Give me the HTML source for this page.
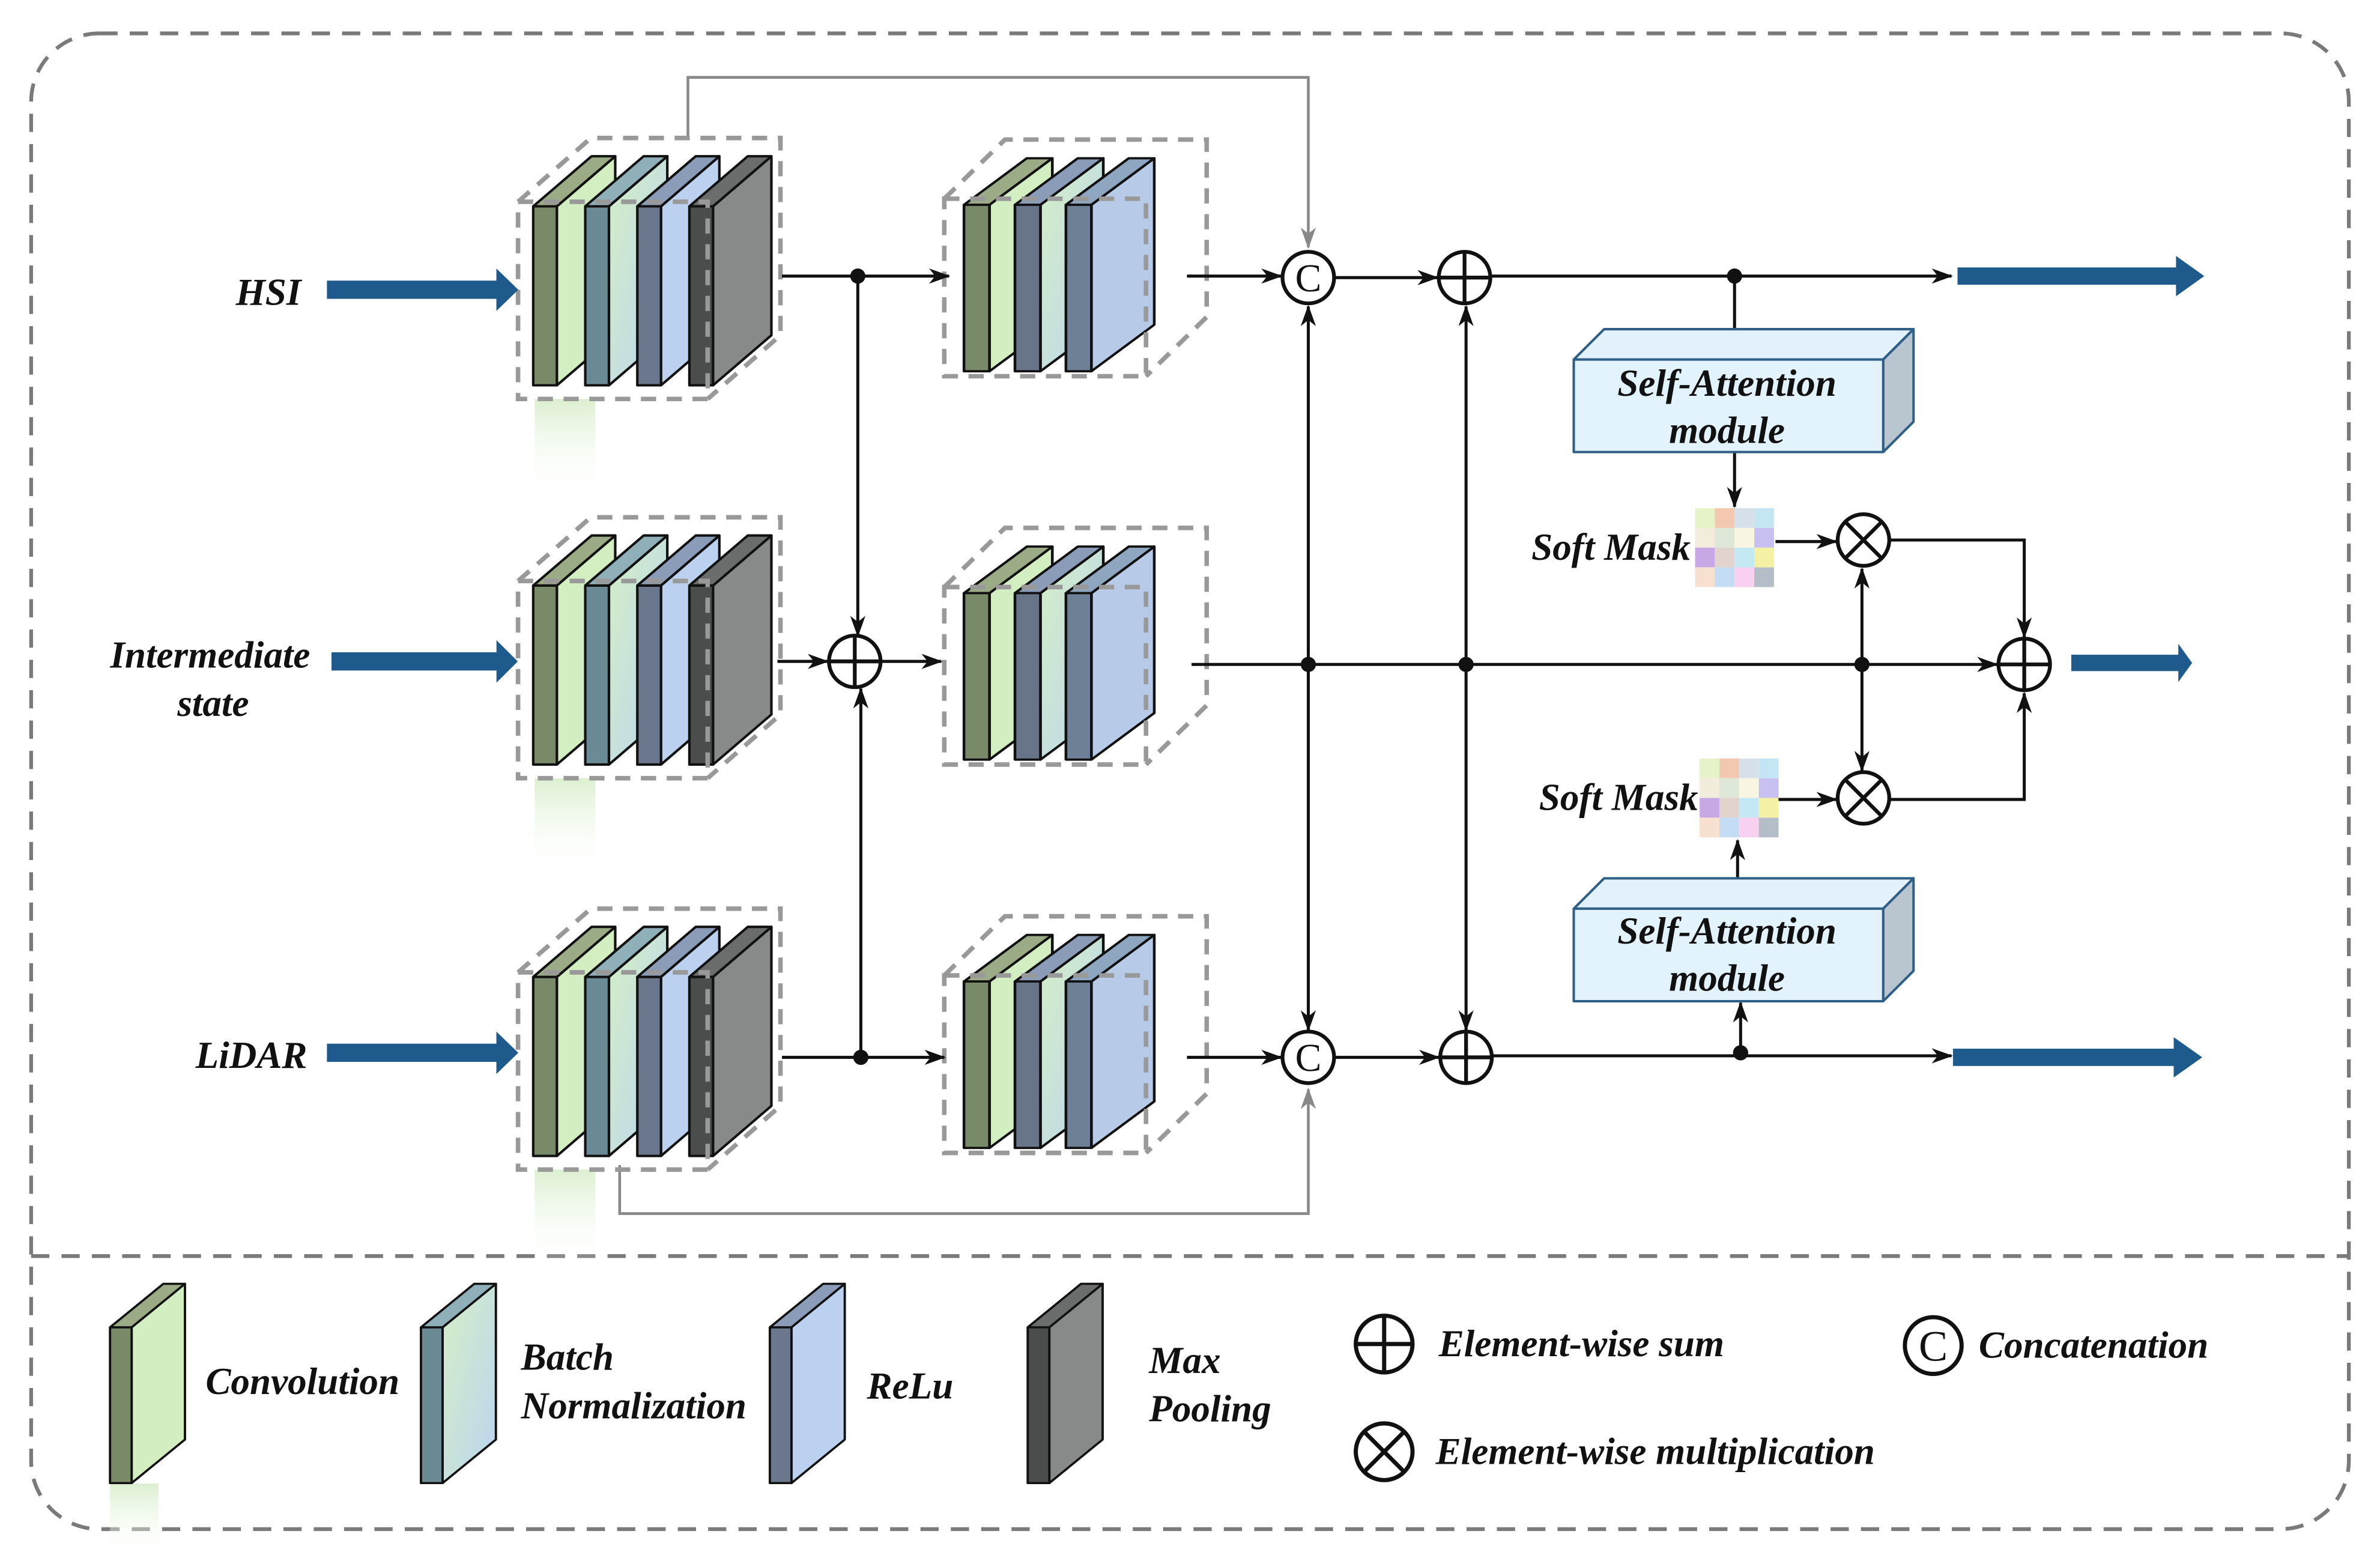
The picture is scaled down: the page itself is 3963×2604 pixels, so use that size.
<!DOCTYPE html>
<html><head><meta charset="utf-8"><style>
html,body{margin:0;padding:0;background:#fff}
svg{display:block}
text{font-family:"Liberation Serif","DejaVu Serif",serif;font-weight:bold;font-style:italic;fill:#111}
</style></head><body>
<svg width="3963" height="2604" viewBox="0 0 1568 1031" xmlns="http://www.w3.org/2000/svg" font-family="Liberation Serif, serif">
<defs>
<marker id="ar" viewBox="0 0 14 10" refX="13" refY="5" markerWidth="14" markerHeight="10" markerUnits="userSpaceOnUse" orient="auto"><path d="M0,0 L14,5 L0,10 L4,5 z" fill="#111"/></marker>
<marker id="ag" viewBox="0 0 14 10" refX="13" refY="5" markerWidth="14" markerHeight="10" markerUnits="userSpaceOnUse" orient="auto"><path d="M0,0 L14,5 L0,10 L4,5 z" fill="#888"/></marker>
<linearGradient id="bnside" x1="0" y1="0" x2="1" y2="1"><stop offset="0" stop-color="#d4efc6"/><stop offset="1" stop-color="#bcd4f0"/></linearGradient>
<linearGradient id="glow" x1="0" y1="0" x2="0" y2="1"><stop offset="0" stop-color="#dcefd0"/><stop offset="1" stop-color="#fff" stop-opacity="0"/></linearGradient>
<g id="conv" stroke="#111" stroke-width="1.6" stroke-linejoin="round">
<path d="M15,0 L52,-33 L52,85 L15,118 Z" fill="#d3efc1"/>
<path d="M0,0 L37,-33 L52,-33 L15,0 Z" fill="#9aab86"/>
<rect x="0" y="0" width="15" height="118" fill="#788a68"/></g>
<g id="bn" stroke="#111" stroke-width="1.6" stroke-linejoin="round">
<path d="M15,0 L52,-33 L52,85 L15,118 Z" fill="url(#bnside)"/>
<path d="M0,0 L37,-33 L52,-33 L15,0 Z" fill="#8fb0b8"/>
<rect x="0" y="0" width="15" height="118" fill="#6a8a95"/></g>
<g id="relu" stroke="#111" stroke-width="1.6" stroke-linejoin="round">
<path d="M15,0 L52,-33 L52,85 L15,118 Z" fill="#bcd0ef"/>
<path d="M0,0 L37,-33 L52,-33 L15,0 Z" fill="#8a9cb8"/>
<rect x="0" y="0" width="15" height="118" fill="#6a778d"/></g>
<g id="pool" stroke="#111" stroke-width="1.6" stroke-linejoin="round">
<path d="M15,0 L52,-33 L52,85 L15,118 Z" fill="#878a88"/>
<path d="M0,0 L37,-33 L52,-33 L15,0 Z" fill="#6a6d6c"/>
<rect x="0" y="0" width="15" height="118" fill="#4a4d4c"/></g>
<g id="b2p2" stroke="#111" stroke-width="1.6" stroke-linejoin="round">
<path d="M15,0 L52,-33 L52,85 L15,118 Z" fill="url(#bnside)"/>
<path d="M0,0 L37,-33 L52,-33 L15,0 Z" fill="#8a9cb8"/>
<rect x="0" y="0" width="15" height="118" fill="#687489"/></g>
<g id="b2p3" stroke="#111" stroke-width="1.6" stroke-linejoin="round">
<path d="M15,0 L52,-33 L52,85 L15,118 Z" fill="#b7cbe8"/>
<path d="M0,0 L37,-33 L52,-33 L15,0 Z" fill="#8ea6bf"/>
<rect x="0" y="0" width="15" height="118" fill="#6e8096"/></g>
<g id="blk1">
<rect x="352" y="263" width="40" height="65" fill="url(#glow)"/>
<g transform="translate(351,136) scale(1.04,1)">
<use href="#conv" x="0" y="0"/><use href="#bn" x="33" y="0"/><use href="#relu" x="66" y="0"/><use href="#pool" x="99" y="0"/></g>
<g fill="none" stroke="#999" stroke-width="3" stroke-dasharray="10 7">
<rect x="341" y="133" width="125" height="130"/>
<path d="M341,133 L389,91 L514,91 L514,221 L466,263"/></g></g>
<g id="blk2">
<g transform="translate(635,135) scale(1.12,0.93)">
<use href="#conv" x="0" y="0"/><use href="#b2p2" x="30" y="0"/><use href="#b2p3" x="60" y="0"/></g>
<g fill="none" stroke="#999" stroke-width="3" stroke-dasharray="10 7">
<rect x="622" y="131" width="133" height="117"/>
<path d="M622,131 L662,92 L795,92 L795,209 L755,248"/></g></g>
<g id="sum" stroke="#111" stroke-width="2.5" fill="#fff"><circle r="17"/><path d="M-17,0 H17 M0,-17 V17" fill="none"/></g>
<g id="mul" stroke="#111" stroke-width="2.5" fill="#fff"><circle r="17"/><path d="M-12,-12 L12,12 M12,-12 L-12,12" fill="none"/></g>
<g id="cat"><circle r="17" stroke="#111" stroke-width="2.5" fill="#fff"/><text x="0" y="9" text-anchor="middle" font-size="26" style="font-style:normal;font-weight:normal">C</text></g>
<g id="mask">
<rect x="0" y="0" width="13" height="13" fill="#e6f3c8"/><rect x="13" y="0" width="13" height="13" fill="#f4c8b0"/><rect x="26" y="0" width="13" height="13" fill="#d6e0ea"/><rect x="39" y="0" width="13" height="13" fill="#c4e6f4"/>
<rect x="0" y="13" width="13" height="13" fill="#f2ecdc"/><rect x="13" y="13" width="13" height="13" fill="#dde8d8"/><rect x="26" y="13" width="13" height="13" fill="#f8f6e2"/><rect x="39" y="13" width="13" height="13" fill="#c8c0f0"/>
<rect x="0" y="26" width="13" height="13" fill="#c8a8e4"/><rect x="13" y="26" width="13" height="13" fill="#e2d4cc"/><rect x="26" y="26" width="13" height="13" fill="#c4e8f4"/><rect x="39" y="26" width="13" height="13" fill="#f4f0a4"/>
<rect x="0" y="39" width="13" height="13" fill="#f8e0d0"/><rect x="13" y="39" width="13" height="13" fill="#c4dcf4"/><rect x="26" y="39" width="13" height="13" fill="#f8d0f0"/><rect x="39" y="39" width="13" height="13" fill="#b4bec8"/></g>
<g id="sa" stroke="#2f5f86" stroke-width="1.6" stroke-linejoin="round">
<path d="M0,0 L20,-20 L224,-20 L204,0 Z" fill="#e2f1fb"/>
<path d="M204,0 L224,-20 L224,41 L204,61 Z" fill="#b9c6cf"/>
<rect x="0" y="0" width="204" height="61" fill="#e2f3fd"/></g>
<g id="blue"><rect x="0" y="-6" width="150" height="12" fill="#1f5a8c"/><path d="M147,-14 L166,0 L147,14 Z" fill="#1f5a8c"/></g>
</defs>

<rect x="20" y="22" width="1528" height="986" rx="45" fill="none" stroke="#7a7a7a" stroke-width="2.5" stroke-dasharray="12 8"/>
<line x1="20" y1="828" x2="1548" y2="828" stroke="#7a7a7a" stroke-width="2.5" stroke-dasharray="12 8"/>

<path d="M453,91 V51 H862 V163" fill="none" stroke="#888" stroke-width="1.8" marker-end="url(#ag)"/>
<path d="M408,768 V800 H862 V718" fill="none" stroke="#888" stroke-width="1.8" marker-end="url(#ag)"/>

<use href="#blk1"/><use href="#blk1" y="250"/><use href="#blk1" y="508"/>
<use href="#blk2"/><use href="#blk2" y="256"/><use href="#blk2" y="512"/>

<g transform="translate(215,191) scale(0.76,1)"><use href="#blue"/></g>
<g transform="translate(218,436) scale(0.74,1)"><use href="#blue"/></g>
<g transform="translate(215,694) scale(0.76,1)"><use href="#blue"/></g>
<text x="198" y="201" font-size="25" text-anchor="end">HSI</text>
<text x="138" y="440" font-size="25" text-anchor="middle">Intermediate</text>
<text x="140" y="472" font-size="25" text-anchor="middle">state</text>
<text x="202" y="704" font-size="25" text-anchor="end">LiDAR</text>

<g stroke="#111" stroke-width="2" fill="none">
<path d="M515,182 H625" marker-end="url(#ar)"/>
<path d="M565,182 V419" marker-end="url(#ar)"/>
<path d="M515,697 H622" marker-end="url(#ar)"/>
<path d="M567,697 V454" marker-end="url(#ar)"/>
<path d="M512,436 H545" marker-end="url(#ar)"/>
<path d="M581,436 H620" marker-end="url(#ar)"/>
<path d="M782,182 H844" marker-end="url(#ar)"/>
<path d="M880,183 H947" marker-end="url(#ar)"/>
<path d="M983,182 H1286" marker-end="url(#ar)"/>
<path d="M1143,182 V232" marker-end="url(#ar)"/>
<path d="M1143,298 V334" marker-end="url(#ar)"/>
<path d="M1170,357 H1210" marker-end="url(#ar)"/>
<path d="M1245,356 H1334 V420" marker-end="url(#ar)"/>
<path d="M785,438 H1316" marker-end="url(#ar)"/>
<path d="M862,438 V202" marker-end="url(#ar)"/>
<path d="M862,438 V679" marker-end="url(#ar)"/>
<path d="M966,438 V202" marker-end="url(#ar)"/>
<path d="M966,438 V679" marker-end="url(#ar)"/>
<path d="M1227,438 V375" marker-end="url(#ar)"/>
<path d="M1227,438 V508" marker-end="url(#ar)"/>
<path d="M1245,527 H1334 V457" marker-end="url(#ar)"/>
<path d="M1172,527 H1210" marker-end="url(#ar)"/>
<path d="M782,697 H844" marker-end="url(#ar)"/>
<path d="M880,697 H948" marker-end="url(#ar)"/>
<path d="M984,696 H1286" marker-end="url(#ar)"/>
<path d="M1147,695 V661" marker-end="url(#ar)"/>
<path d="M1145,600 V554" marker-end="url(#ar)"/>
</g>
<g fill="#111">
<circle cx="565" cy="182" r="5"/><circle cx="567" cy="697" r="5"/>
<circle cx="1143" cy="182" r="5"/><circle cx="862" cy="438" r="5"/><circle cx="966" cy="438" r="5"/><circle cx="1227" cy="438" r="5"/><circle cx="1147" cy="694" r="5"/>
</g>

<use href="#sum" x="563" y="436"/>
<use href="#cat" x="862" y="183"/><use href="#sum" x="965" y="183"/>
<use href="#cat" x="862" y="697"/><use href="#sum" x="966" y="697"/>
<use href="#mul" x="1228" y="356"/><use href="#mul" x="1228" y="526"/>
<use href="#sum" x="1334" y="438"/>

<use href="#sa" x="1037" y="237"/>
<text x="1138" y="261" font-size="25" text-anchor="middle">Self-Attention</text>
<text x="1138" y="292" font-size="25" text-anchor="middle">module</text>
<use href="#sa" x="1037" y="599"/>
<text x="1138" y="622" font-size="25" text-anchor="middle">Self-Attention</text>
<text x="1138" y="653" font-size="25" text-anchor="middle">module</text>

<use href="#mask" x="1117" y="335"/>
<text x="1114" y="369" font-size="25" text-anchor="end">Soft Mask</text>
<use href="#mask" x="1120" y="500"/>
<text x="1119" y="534" font-size="25" text-anchor="end">Soft Mask</text>

<g transform="translate(1290,182) scale(0.98,0.95)"><use href="#blue"/></g>
<g transform="translate(1365,437) scale(0.48,0.9)"><use href="#blue"/></g>
<g transform="translate(1287,697) scale(0.99,0.95)"><use href="#blue"/></g>

<rect x="72" y="978" width="32" height="50" fill="url(#glow)"/>
<g transform="translate(72,875) scale(0.95,0.87)"><use href="#conv"/></g>
<g transform="translate(277,875) scale(0.95,0.87)"><use href="#bn"/></g>
<g transform="translate(507,875) scale(0.95,0.87)"><use href="#relu"/></g>
<g transform="translate(677,875) scale(0.95,0.87)"><use href="#pool"/></g>
<text x="135" y="919" font-size="25">Convolution</text>
<text x="343" y="903" font-size="25">Batch</text>
<text x="343" y="935" font-size="25">Normalization</text>
<text x="571" y="922" font-size="25">ReLu</text>
<text x="757" y="905" font-size="25">Max</text>
<text x="757" y="937" font-size="25">Pooling</text>
<g transform="translate(912,886) scale(1.1)"><use href="#sum"/></g>
<text x="948" y="894" font-size="25">Element-wise sum</text>
<g transform="translate(1274,887) scale(1.1)"><use href="#cat"/></g>
<text x="1304" y="895" font-size="25">Concatenation</text>
<g transform="translate(912,957) scale(1.1)"><use href="#mul"/></g>
<text x="946" y="965" font-size="25">Element-wise multiplication</text>
</svg>
</body></html>
